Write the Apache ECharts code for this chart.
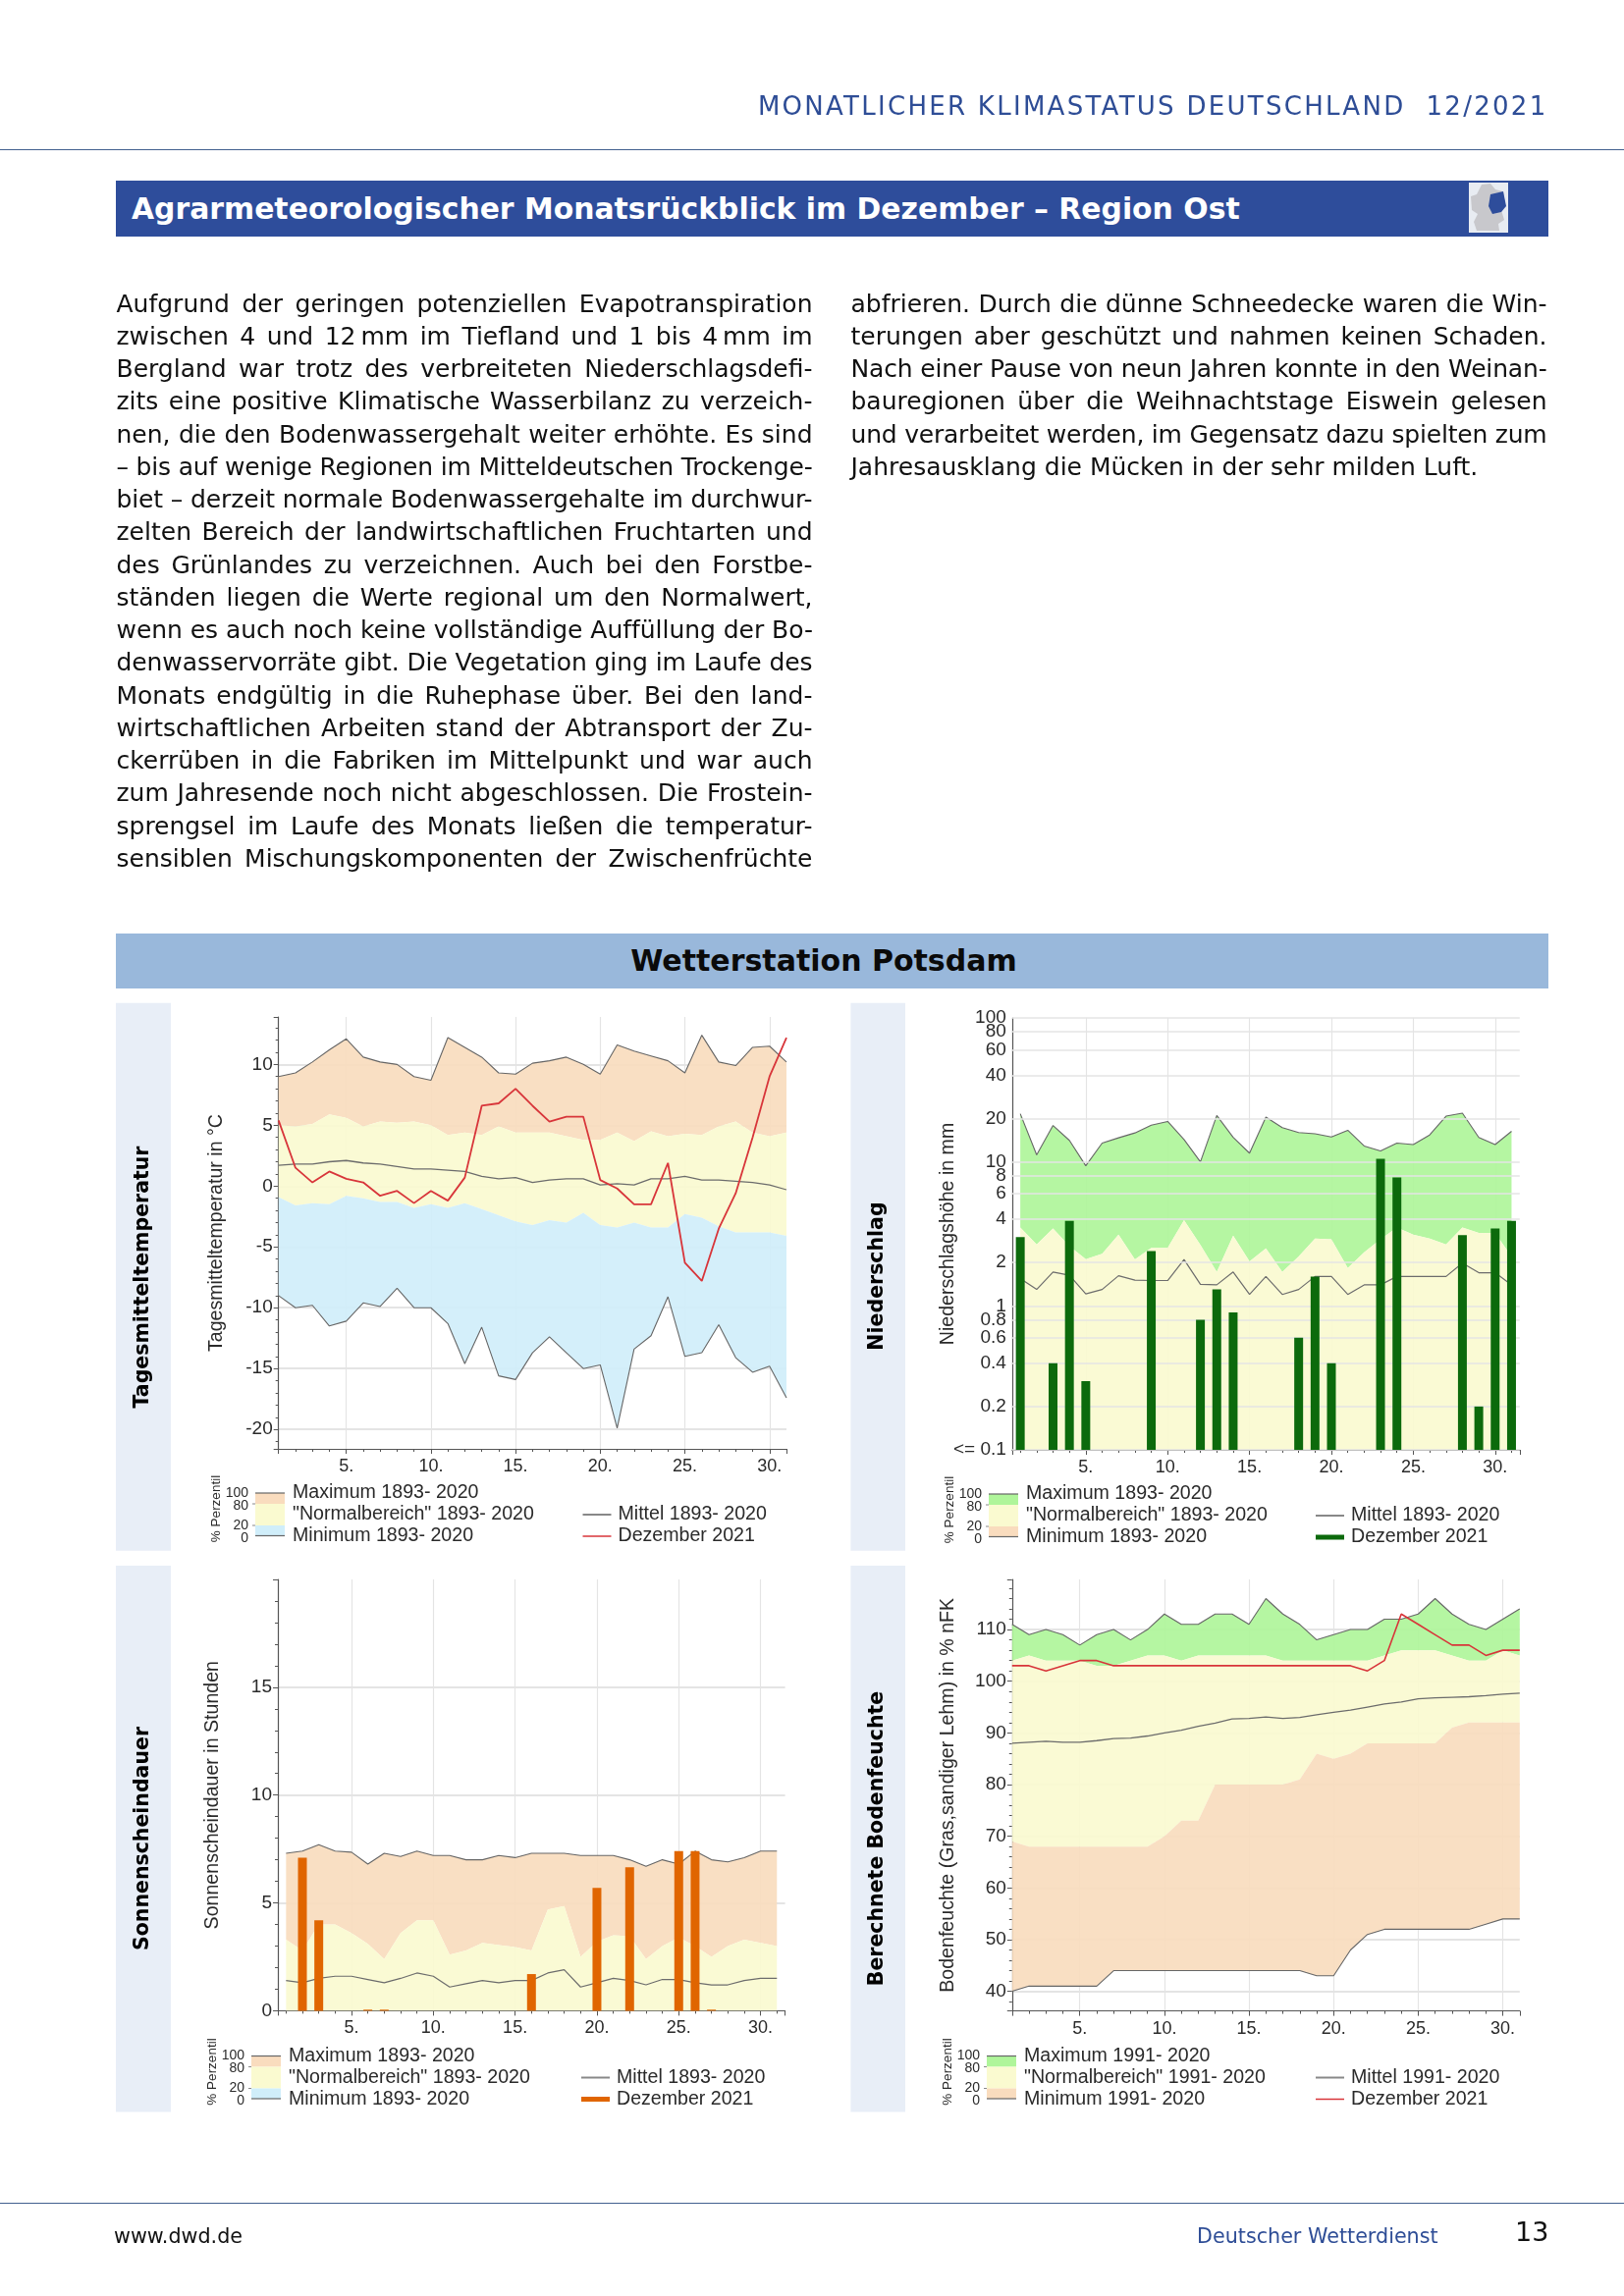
<!DOCTYPE html>
<html lang="de"><head><meta charset="utf-8">
<script src="https://cdn.jsdelivr.net/npm/echarts@6/dist/echarts.min.js"></script>
<style>
html,body{margin:0;padding:0;background:#fff;width:1654px;height:2339px;overflow:hidden}
#chart{position:absolute;left:0;top:0;width:1654px;height:2339px;filter:blur(0.4px)}
.t{position:absolute;font-family:"DejaVu Sans";white-space:nowrap}
.l{position:absolute;font-family:"DejaVu Sans";font-size:25px;color:#111;line-height:33px;height:33px;text-align:justify;text-align-last:justify;white-space:normal;width:709px}
.r{position:absolute;background:#000}
</style></head><body>
<div id="chart"></div>
<div id="page"></div>
<script>
// ---------- page text ----------
const headerText = 'MONATLICHER KLIMASTATUS DEUTSCHLAND  12/2021';
const titleText = 'Agrarmeteorologischer Monatsrückblick im Dezember – Region Ost';
const sectionText = 'Wetterstation Potsdam';
const footerLeft = 'www.dwd.de', footerMid = 'Deutscher Wetterdienst', pageNo = '13';
const column1 = ['Aufgrund der geringen potenziellen Evapotranspiration','zwischen 4 und 12\u202Fmm im Tiefland und 1 bis 4\u202Fmm im','Bergland war trotz des verbreiteten Niederschlagsdefi-','zits eine positive Klimatische Wasserbilanz zu verzeich-','nen, die den Bodenwassergehalt weiter erhöhte. Es sind','– bis auf wenige Regionen im Mitteldeutschen Trockenge-','biet – derzeit normale Bodenwassergehalte im durchwur-','zelten Bereich der landwirtschaftlichen Fruchtarten und','des Grünlandes zu verzeichnen. Auch bei den Forstbe-','ständen liegen die Werte regional um den Normalwert,','wenn es auch noch keine vollständige Auffüllung der Bo-','denwasservorräte gibt. Die Vegetation ging im Laufe des','Monats endgültig in die Ruhephase über. Bei den land-','wirtschaftlichen Arbeiten stand der Abtransport der Zu-','ckerrüben in die Fabriken im Mittelpunkt und war auch','zum Jahresende noch nicht abgeschlossen. Die Frostein-','sprengsel im Laufe des Monats ließen die temperatur-','sensiblen Mischungskomponenten der Zwischenfrüchte'];
const column2 = ['abfrieren. Durch die dünne Schneedecke waren die Win-','terungen aber geschützt und nahmen keinen Schaden.','Nach einer Pause von neun Jahren konnte in den Weinan-','bauregionen über die Weihnachtstage Eiswein gelesen','und verarbeitet werden, im Gegensatz dazu spielten zum','Jahresausklang die Mücken in der sehr milden Luft.'];

// ---------- data ----------
const days = [1,2,3,4,5,6,7,8,9,10,11,12,13,14,15,16,17,18,19,20,21,22,23,24,25,26,27,28,29,30,31];

const tempMax = [9.0,9.3,10.2,11.2,12.1,10.6,10.2,10.0,9.0,8.7,12.2,11.4,10.6,9.3,9.2,10.1,10.3,10.6,10.0,9.2,11.6,11.1,10.7,10.3,9.3,12.4,10.2,9.9,11.4,11.5,10.2];
const tempP80 = [5.0,4.9,5.1,5.9,5.6,4.9,5.3,5.2,5.3,5.0,4.2,4.4,4.2,4.9,4.4,4.4,4.4,4.1,3.8,3.8,4.4,3.7,4.5,4.1,4.3,4.2,4.9,5.3,4.4,4.1,4.4];
const tempP20 = [-0.9,-1.6,-1.4,-1.5,-0.8,-1.0,-1.3,-1.3,-1.8,-1.5,-1.8,-1.4,-1.9,-2.4,-2.9,-3.2,-2.8,-3.0,-2.2,-3.2,-3.4,-3.0,-3.4,-3.4,-2.3,-2.6,-3.3,-3.8,-3.8,-3.8,-4.1];
const tempMin = [-9.0,-10.0,-9.8,-11.5,-11.1,-9.6,-9.9,-8.4,-10.0,-10.0,-11.3,-14.6,-11.6,-15.6,-15.9,-13.7,-12.4,-13.7,-15.0,-14.7,-19.9,-13.4,-12.3,-9.1,-14.0,-13.7,-11.4,-14.1,-15.3,-14.8,-17.4];
const tempMean = [1.7,1.8,1.8,2.0,2.1,1.9,1.8,1.6,1.4,1.4,1.3,1.2,0.8,0.6,0.7,0.3,0.5,0.6,0.6,0.1,0.2,0.1,0.6,0.6,0.8,0.5,0.5,0.4,0.3,0.1,-0.3];
const temp2021 = [5.4,1.5,0.3,1.2,0.6,0.3,-0.8,-0.4,-1.4,-0.4,-1.2,0.7,6.6,6.8,8.0,6.6,5.3,5.7,5.7,0.5,-0.2,-1.5,-1.5,1.9,-6.3,-7.8,-3.5,-0.6,4.0,9.0,12.2];

const rainMax = [21.6,11.2,17.9,14.1,9.4,13.5,14.7,15.9,18.0,19.1,14.3,10.0,21.0,14.8,11.5,20.5,17.3,16.0,15.7,14.9,16.6,12.9,11.9,13.5,13.2,15.4,20.8,21.8,14.8,13.2,16.3];
const rainP80 = [3.5,2.67,3.45,2.6,2.11,2.3,3.12,2.1,2.53,2.53,3.94,2.65,1.72,3.08,2.04,2.51,1.72,2.2,2.94,2.9,1.83,2.36,2.9,3.5,3.12,2.94,2.67,3.5,3.21,3.2,2.2];
const rainMin = [0.1,0.1,0.1,0.1,0.1,0.1,0.1,0.1,0.1,0.1,0.1,0.1,0.1,0.1,0.1,0.1,0.1,0.1,0.1,0.1,0.1,0.1,0.1,0.1,0.1,0.1,0.1,0.1,0.1,0.1,0.1];
const rainMean = [1.55,1.3,1.72,1.63,1.21,1.3,1.62,1.51,1.5,1.5,2.1,1.41,1.4,1.72,1.2,1.6,1.2,1.3,1.6,1.6,1.2,1.4,1.4,1.6,1.6,1.6,1.6,1.98,1.7,1.7,1.4];
const rain2021 = [3.0,null,0.4,3.9,0.3,null,null,null,2.4,null,null,0.8,1.3,0.9,null,null,null,0.6,1.6,0.4,null,null,10.5,7.8,null,null,null,3.1,0.2,3.45,3.9];
const rainTickValues = [100,80,60,40,20,10,8,6,4,2,1,0.8,0.6,0.4,0.2,0.1];
const rainTickLabels = ['100','80','60','40','20','10','8','6','4','2','1','0.8','0.6','0.4','0.2','<= 0.1'];

const sunMax = [7.3,7.4,7.7,7.4,7.35,6.8,7.3,7.15,7.4,7.2,7.2,7.0,7.0,7.2,7.1,7.3,7.3,7.3,7.2,7.2,7.2,7.0,6.7,7.0,6.8,7.4,7.0,6.9,7.1,7.4,7.4];
const sunP80 = [3.3,2.8,4.0,4.0,3.6,3.1,2.4,3.6,4.2,4.2,2.6,2.8,3.15,3.05,2.95,2.8,4.7,4.85,2.5,3.2,3.5,3.45,2.4,3.0,3.4,3.0,2.5,3.0,3.3,3.15,3.0];
const sunMean = [1.4,1.3,1.5,1.6,1.6,1.45,1.3,1.5,1.75,1.6,1.1,1.25,1.4,1.3,1.4,1.4,1.75,1.9,1.1,1.3,1.5,1.4,1.2,1.45,1.45,1.3,1.2,1.2,1.4,1.5,1.5];
const sunMin = [0,0,0,0,0,0,0,0,0,0,0,0,0,0,0,0,0,0,0,0,0,0,0,0,0,0,0,0,0,0,0];
const sun2021 = [0,7.1,4.2,0,0,0.05,0.05,0,0,0,0,0,0,0,0,1.7,0,0,0,5.7,0,6.65,0,0,7.4,7.4,0.05,0,0,0,0];

const soilMax = [111,109,110,109,107,109,110,108,110,113,111,111,113,113,111,116,113,111,108,109,110,110,112,112,113,116,113,111,110,112,114];
const soilP80 = [104,105,104,104,104,103,103,104,105,105,104,105,105,105,105,105,104,104,104,104,104,104,105,106,106,106,105,104,104,106,105];
const soilMean = [88,88.2,88.4,88.2,88.2,88.5,88.9,89,89.4,90,90.5,91.3,91.9,92.7,92.8,93.1,92.8,93,93.5,94,94.4,95,95.6,96,96.6,96.8,96.9,97,97.2,97.5,97.7];
const soilP20 = [69,68,68,68,68,68,68,68,68,70,73,73,80,80,80,80,80,81,86,85,86,88,88,88,88,88,91,92,92,92,92];
const soilMin = [40,41,41,41,41,41,44,44,44,44,44,44,44,44,44,44,44,44,43,43,48,51,52,52,52,52,52,52,53,54,54];
const soil2021 = [103,103,102,103,104,104,103,103,103,103,103,103,103,103,103,103,103,103,103,103,103,102,104,113,111,109,107,107,105,106,106];

const legendTemp = ['Maximum 1893- 2020','"Normalbereich" 1893- 2020','Minimum 1893- 2020','Mittel 1893- 2020','Dezember 2021'];
const legendSoil = ['Maximum 1991- 2020','"Normalbereich" 1991- 2020','Minimum 1991- 2020','Mittel 1991- 2020','Dezember 2021'];
const percentTicks = ['100','80','20','0'];

// ---------- colours ----------
const ORANGE='#f9dcbe', YELLOW='#fafad0', BLUE='#d0eefa', GREEN='#aff59a';
const GRID='#e4e4e4', AXIS='#555', TXT='#2a2a2a', EDGE='#666', MEAN='#6c6c6c', RED='#d8353a', DGREEN='#0c6a0c', DORANGE='#e06500';
const ARIAL='"Liberation Sans"';

// ---------- page furniture ----------
const page=document.getElementById('page');
function add(cls,css,text){const e=document.createElement('div');e.className=cls;e.style.cssText=css;if(text!=null)e.textContent=text;page.appendChild(e);return e;}
function bodyLine(x,y,s,last){
  const e=add('l',`left:${x}px;top:${y}px`,s);
  e.style.whiteSpace='nowrap';e.style.width='auto';
  const w=e.getBoundingClientRect().width;
  if(w>709){e.style.letterSpacing=((709-w)/s.length)+'px';e.style.width='709px';e.style.textAlignLast='left';}
  else{e.style.whiteSpace='normal';e.style.width='709px';if(last)e.style.textAlignLast='left';}
}
add('r','left:0;top:151.5px;width:1654px;height:1.5px;background:#42608f');
add('t','right:77.5px;top:91px;font-size:26px;line-height:34px;color:#2e4d96;letter-spacing:2.28px;white-space:pre',headerText);
add('r','left:118px;top:184px;width:1459px;height:57px;background:#2e4d9b');
add('t','left:134px;top:192px;font-size:29.85px;line-height:42px;font-weight:bold;color:#fff',titleText);
const ic=add('r','left:1496px;top:186px;width:40px;height:51px;background:#e8ecf2');
ic.innerHTML='<svg width="40" height="51" viewBox="0 0 40 51"><path d="M13 2 L22 1 L27 7 L35 9 L37 24 L33 28 L36 38 L30 42 L31 49 L8 49 L5 40 L9 32 L3 28 L2 14 L8 12 Z" fill="#c8c8cc"/><path d="M22 12 L35 9 L38 24 L33 30 L24 32 L20 24 Z" fill="#2e4d9b"/></svg>';
column1.forEach((s,i)=>bodyLine(118.5,292.5+i*33.25,s,false));
column2.forEach((s,i)=>bodyLine(866.5,292.5+i*33.25,s,i==column2.length-1));
add('r','left:118px;top:951px;width:1459px;height:56px;background:#99b8db');
add('t','left:118px;width:1442px;text-align:center;top:959px;font-size:30px;line-height:40px;font-weight:bold;color:#0a0a0a',sectionText);
add('r','left:0;top:2243.5px;width:1654px;height:1.5px;background:#42608f');
add('t','left:116px;top:2262px;font-size:20.7px;line-height:32px;color:#111',footerLeft);
add('t','left:1219px;top:2262px;font-size:20.7px;line-height:32px;color:#2e4d96',footerMid);
add('t','left:1543px;top:2256px;font-size:27px;line-height:36px;color:#111',pageNo);

// ---------- chart helpers ----------
function band(gi,lower,upper,color){
  return {type:'custom',xAxisIndex:gi,yAxisIndex:gi,z:2,silent:true,clip:true,
    encode:{x:0,y:[1,2]},
    data:days.map((d,i)=>[d,lower[i],upper[i]]),
    renderItem(params,api){
      if(params.dataIndex!==0) return null;
      const pts=[];
      days.forEach((d,i)=>pts.push(api.coord([d,upper[i]])));
      for(let i=days.length-1;i>=0;i--) pts.push(api.coord([days[i],lower[i]]));
      return {type:'polygon',shape:{points:pts},style:{fill:color,opacity:0.92}};
    }};
}
function line(gi,vals,color,w,z){
  return {type:'line',xAxisIndex:gi,yAxisIndex:gi,symbol:'none',silent:true,z:z||4,
    data:days.map((d,i)=>[d,vals[i]]),lineStyle:{color,width:w}};
}
function xAxis(gi,min,max){
  return {type:'value',gridIndex:gi,min,max,splitNumber:6,
    axisLine:{show:true,onZero:false,lineStyle:{color:AXIS,width:1.2}},
    axisTick:{show:true,length:5,lineStyle:{color:AXIS}},
    minorTick:{show:true,splitNumber:5,length:3,lineStyle:{color:AXIS}},
    splitLine:{show:true,showMinLine:false,showMaxLine:false,lineStyle:{color:GRID,width:1.2}},
    axisLabel:{color:TXT,fontFamily:ARIAL,fontSize:18,margin:9,showMinLabel:false,showMaxLabel:false,
      formatter:v=>v%5===0?v+'.':''}};
}
function yAxis(gi,min,max,split,name,minor,gap){
  return {type:'value',gridIndex:gi,min,max,splitNumber:split,
    name,nameLocation:'middle',nameGap:gap,nameRotate:90,nameMoveOverlap:false,
    nameTextStyle:{color:TXT,fontFamily:ARIAL,fontSize:19.6},
    axisLine:{show:true,onZero:false,lineStyle:{color:AXIS,width:1.2}},
    axisTick:{show:true,length:5,lineStyle:{color:AXIS}},
    minorTick:{show:true,splitNumber:minor,length:3,lineStyle:{color:AXIS}},
    splitLine:{show:true,showMinLine:false,showMaxLine:false,lineStyle:{color:GRID,width:2}},
    axisLabel:{color:TXT,fontFamily:ARIAL,fontSize:19,margin:6,showMinLabel:false,showMaxLabel:false,
      formatter:v=>String(v)}};
}
function sideLabel(text,x,y,size){
  return {type:'text',x,y,rotation:Math.PI/2,silent:true,z:10,
    style:{text,fill:'#000',font:`bold ${size}px "DejaVu Sans"`,align:'center',verticalAlign:'middle'}};
}
function panel(x,y,w,h){return {type:'rect',silent:true,z:0,shape:{x,y,width:w,height:h},style:{fill:'#e8eef7'}};}
function txt(text,x,y,size,align){
  return {type:'text',x,y,silent:true,z:10,style:{text,fill:TXT,font:`${size}px ${ARIAL}`,align:align||'left',verticalAlign:'middle'}};
}
function hline(x1,x2,y,color,w){return {type:'line',silent:true,z:10,shape:{x1,y1:y,x2,y2:y},style:{stroke:color,lineWidth:w}};}
function rect(x,y,w,h,fill){return {type:'rect',silent:true,z:9,shape:{x,y,width:w,height:h},style:{fill}};}
function legend(ox,oy,rx,labels,cTop,cBot,lastColor,lastW){
  return [
    rect(ox,oy,30,11,cTop),rect(ox,oy+11,30,22,YELLOW),rect(ox,oy+33,30,10.5,cBot),
    hline(ox,ox+30,oy,'#666',1.2),hline(ox,ox+30,oy+43.5,'#666',1.2),
    hline(ox-3,ox,oy+11,'#888',1),hline(ox-3,ox,oy+33,'#888',1),
    txt(percentTicks[0],ox-7,oy,14,'right'),txt(percentTicks[1],ox-7,oy+13,14,'right'),
    txt(percentTicks[2],ox-7,oy+33,14,'right'),txt(percentTicks[3],ox-7,oy+46,14,'right'),
    {type:'text',x:ox-40,y:oy+16,rotation:Math.PI/2,silent:true,z:10,style:{text:'% Perzentil',fill:TXT,font:`13.5px ${ARIAL}`,align:'center',verticalAlign:'middle'}},
    txt(labels[0],ox+38,oy,19.6),txt(labels[1],ox+38,oy+22,19.6),txt(labels[2],ox+38,oy+44,19.6),
    hline(rx,rx+29,oy+22,'#888',2),hline(rx,rx+29,oy+44,lastColor,lastW),
    txt(labels[3],rx+36,oy+22,19.6),txt(labels[4],rx+36,oy+44,19.6)
  ];
}

// ---------- grids ----------
const grid=[
  {left:283.7,top:1036,width:517.3,height:440},
  {left:1030.8,top:1037,width:517,height:440},
  {left:283,top:1609,width:516.6,height:439.4},
  {left:1030.8,top:1609,width:517,height:439.6}
];
const xAxes=[xAxis(0,1,31),xAxis(1,0.5,31.5),xAxis(2,0.5,31.5),xAxis(3,1,31)];
const yAxes=[
  yAxis(0,-21.6,13.9,7,'Tagesmitteltemperatur in °C',5,53),
  {type:'log',gridIndex:1,min:0.1,max:100,logBase:10,
    name:'Niederschlagshöhe in mm',nameLocation:'middle',nameGap:55,nameRotate:90,nameMoveOverlap:false,
    nameTextStyle:{color:TXT,fontFamily:ARIAL,fontSize:19.6},
    axisLine:{show:true,onZero:false,lineStyle:{color:AXIS,width:1.2}},
    axisTick:{show:false},splitLine:{show:false},axisLabel:{show:false}},
  yAxis(2,0,20,4,'Sonnenscheindauer in Stunden',5,56),
  yAxis(3,36.2,119.7,8,'Bodenfeuchte (Gras,sandiger Lehm) in % nFK',5,55)
];
yAxes[2].axisLabel.showMinLabel=true;

// ---------- series ----------
const series=[
  // Temperatur
  band(0,tempP80,tempMax,ORANGE),band(0,tempP20,tempP80,YELLOW),band(0,tempMin,tempP20,BLUE),
  line(0,tempMax,EDGE,1.1),line(0,tempMin,EDGE,1.1),line(0,tempMean,MEAN,1.3),line(0,temp2021,RED,1.8,5),
  // Niederschlag
  {type:'line',xAxisIndex:1,yAxisIndex:1,symbol:'none',silent:true,z:1,data:[],
    markLine:{silent:true,symbol:'none',animation:false,
      lineStyle:{color:GRID,width:1.6,type:'solid'},
      label:{show:true,position:'start',distance:6,color:TXT,fontFamily:ARIAL,fontSize:19,formatter:p=>p.name},
      data:rainTickValues.map((v,i)=>({yAxis:v,name:rainTickLabels[i]}))}},
  band(1,rainP80,rainMax,GREEN),band(1,rainMin,rainP80,YELLOW),
  line(1,rainMax,EDGE,1.1),line(1,rainMean,MEAN,1.2),
  {type:'custom',xAxisIndex:1,yAxisIndex:1,z:5,silent:true,encode:{x:0,y:1},
    data:days.map((d,i)=>[d,rain2021[i]]).filter(p=>p[1]!=null),
    renderItem(params,api){
      const top=api.coord([api.value(0),api.value(1)]),base=api.coord([api.value(0),0.1]);
      return {type:'rect',shape:{x:top[0]-4.5,y:top[1],width:9,height:base[1]-top[1]},style:{fill:DGREEN}};
    }},
  // Sonne
  band(2,sunP80,sunMax,ORANGE),band(2,sunMin,sunP80,YELLOW),
  line(2,sunMax,EDGE,1.1),line(2,sunMean,MEAN,1.2),
  {type:'bar',xAxisIndex:2,yAxisIndex:2,z:5,silent:true,barWidth:9,
    data:days.map((d,i)=>[d,sun2021[i]]),itemStyle:{color:DORANGE}},
  // Boden
  band(3,soilP80,soilMax,GREEN),band(3,soilP20,soilP80,YELLOW),band(3,soilMin,soilP20,ORANGE),
  line(3,soilMax,EDGE,1.1),line(3,soilMin,EDGE,1.1),line(3,soilMean,MEAN,1.3),line(3,soil2021,RED,1.6,5)
];

// ---------- side panels, side labels, legends ----------
const graphic=[
  panel(118,1021.7,56,558),panel(866.4,1021.7,55.6,558),panel(118,1595,56,556.6),panel(866.4,1595,55.6,556.6),
  sideLabel('Tagesmitteltemperatur',145.5,1301,20.5),
  sideLabel('Niederschlag',893.5,1300,20.5),
  sideLabel('Sonnenscheindauer',145.5,1873,20.5),
  sideLabel('Berechnete Bodenfeuchte',893.5,1873,20.5),
  ...legend(260,1521,593.5,legendTemp,ORANGE,BLUE,RED,1.5),
  ...legend(1007,1522,1340,legendTemp,GREEN,ORANGE,DGREEN,5),
  ...legend(256,2094.5,592,legendTemp,ORANGE,BLUE,DORANGE,5),
  ...legend(1005,2094.5,1340,legendSoil,GREEN,ORANGE,RED,1.5)
];

const chart=echarts.init(document.getElementById('chart'));
chart.setOption({animation:false,backgroundColor:'#fff',grid,xAxis:xAxes,yAxis:yAxes,series,graphic:{elements:graphic},tooltip:{show:false}});
</script>
</body></html>
